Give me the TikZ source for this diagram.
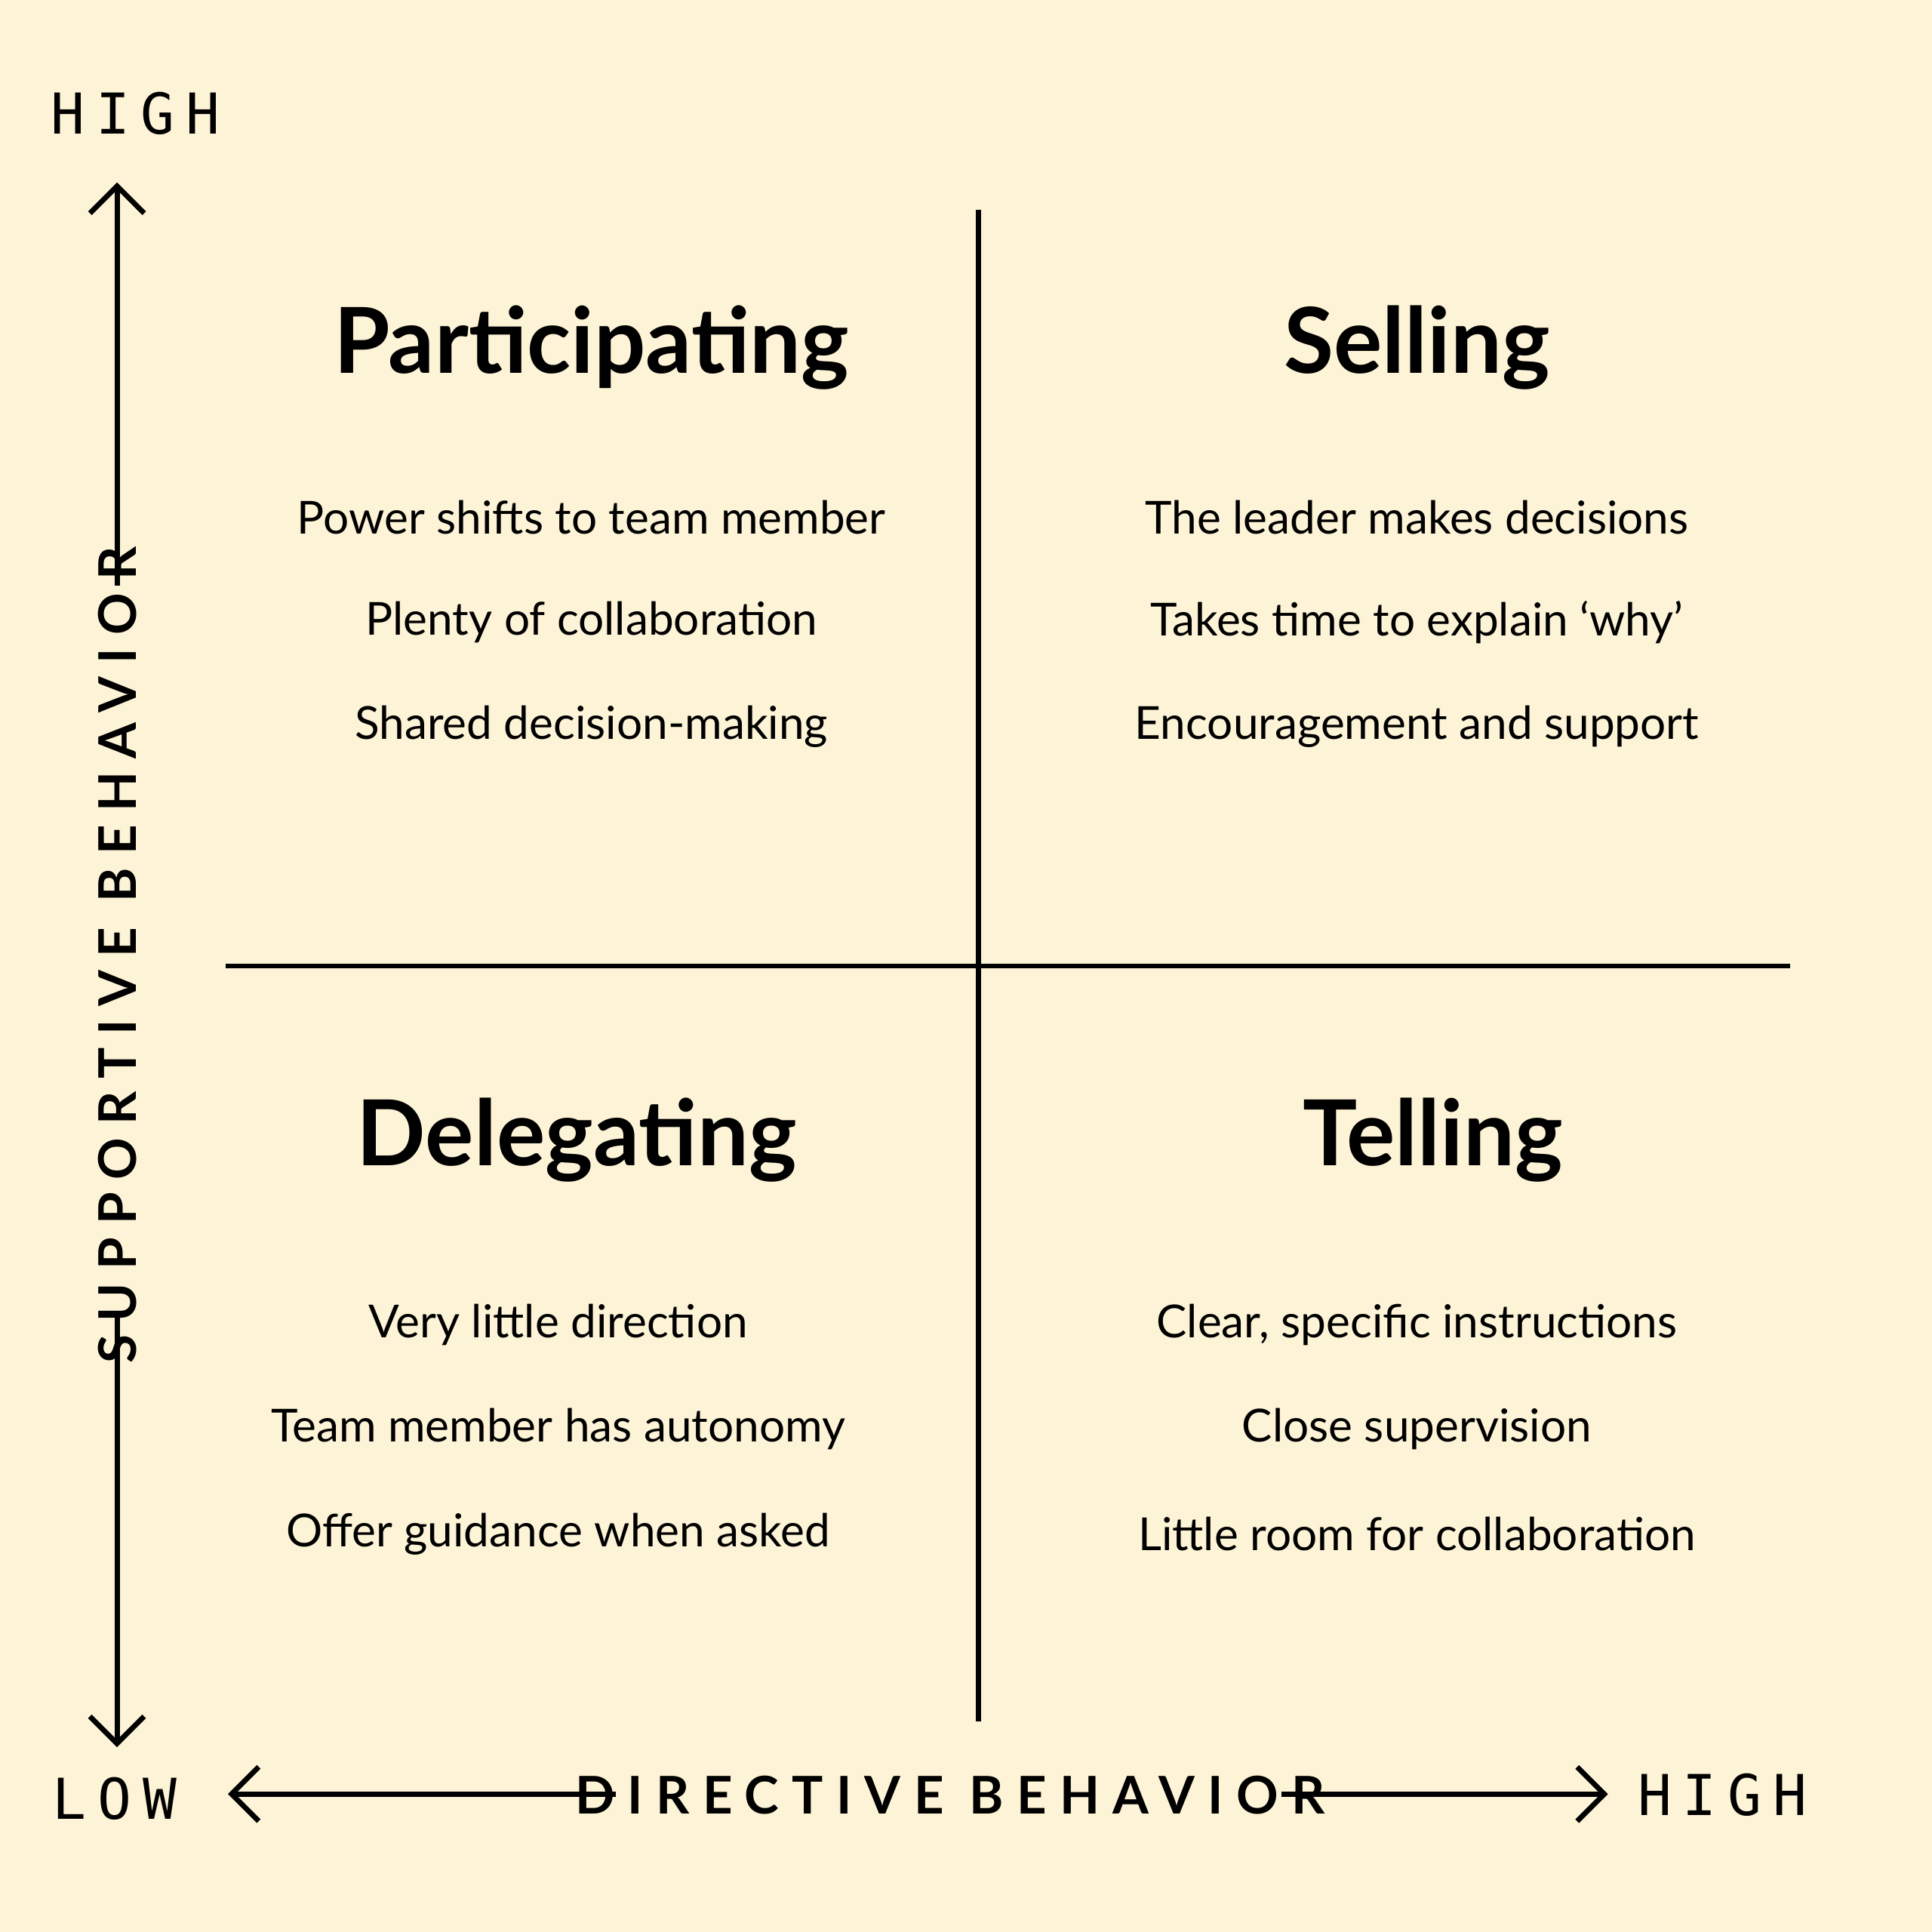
\documentclass[tikz,border=0pt]{standalone}
\usepackage{fontspec}
\setmainfont{Lato}
\newfontfamily\axisfont{DejaVu Sans Mono}
\usetikzlibrary{arrows.meta}
\definecolor{paper}{HTML}{FDF3D6}
\tikzset{
  title/.style={font=\fontsize{21}{24}\selectfont\bfseries},
  item/.style={font=\fontsize{10.5}{12}\selectfont},
  axis/.style={font=\fontsize{12}{14}\selectfont\bfseries\addfontfeature{LetterSpace=25}},
  level/.style={font=\fontsize{13}{15}\selectfont\axisfont\addfontfeature{LetterSpace=20}},
  rule/.style={line width=1.2pt},
  tip/.style={rule,-{Straight Barb[length=2.2mm,width=4.4mm]}}
}
\begin{document}
\begin{tikzpicture}[x=0.01cm,y=-0.01cm]
\fill[paper] (0,0) rectangle (1568,1568);
\useasboundingbox (0,0) rectangle (1568,1568);
% quadrant lines
\coordinate (vt) at (794,170);
\coordinate (vb) at (794,1397);
\coordinate (hl) at (183,784);
\coordinate (hr) at (1453,784);
\draw[rule] (vt) -- (vb);
\draw[rule] (hl) -- (hr);
% vertical axis
\node[axis,rotate=90] (sup) at (95,775) {SUPPORTIVE BEHAVIOR};
\coordinate (uptop) at (95,148);
\coordinate (upbot) at (95,475);
\coordinate (dntop) at (95,1068);
\coordinate (dnbot) at (95,1418);
\draw[tip] (upbot) -- (uptop);
\draw[tip] (dntop) -- (dnbot);
\node[level] (vhigh) at (110,92) {HIGH};
\node[level] (low) at (93,1460) {LOW};
% horizontal axis
\node[axis] (dir) at (771,1457) {DIRECTIVE BEHAVIOR};
\coordinate (lfrom) at (500,1456);
\coordinate (lto) at (185,1456);
\coordinate (rfrom) at (1040,1456);
\coordinate (rto) at (1305,1456);
\draw[tip] (lfrom) -- (lto);
\draw[tip] (rfrom) -- (rto);
\node[level] (hhigh) at (1398,1457) {HIGH};
% quadrants
\node[title] (part) at (480,282) {Participating};
\node[item] (p1) at (480,420) {Power shifts to team member};
\node[item] (p2) at (480,505) {Plenty of collaboration};
\node[item] (p3) at (480,590) {Shared decision-making};
\node[title] (sell) at (1150,282) {Selling};
\node[item] (s1) at (1150,420) {The leader makes decisions};
\node[item] (s2) at (1150,505) {Takes time to explain ‘why’};
\node[item] (s3) at (1150,590) {Encouragement and support};
\node[title] (dele) at (468,925) {Delegating};
\node[item] (d1) at (453,1075) {Very little direction};
\node[item] (d2) at (453,1160) {Team member has autonomy};
\node[item] (d3) at (453,1245) {Offer guidance when asked};
\node[title] (tell) at (1163,925) {Telling};
\node[item] (t1) at (1150,1075) {Clear, specific instructions};
\node[item] (t2) at (1150,1160) {Close supervision};
\node[item] (t3) at (1150,1245) {Little room for collaboration};
\end{tikzpicture}
\end{document}
